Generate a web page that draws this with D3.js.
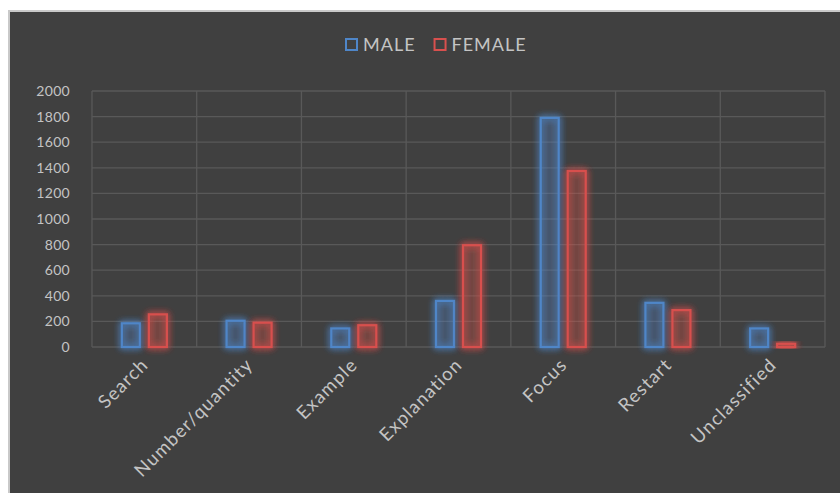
<!DOCTYPE html>
<html>
<head>
<meta charset="utf-8">
<script src="https://cdn.jsdelivr.net/npm/d3@7"></script>
<style>
  body { margin: 0; background: #ffffff; }
  svg { display: block; }
</style>
</head>
<body>
<script>
// chart data
var categories = ["Search", "Number/quantity", "Example", "Explanation", "Focus", "Restart", "Unclassified"];
var series = ["MALE", "FEMALE"];
var male = [185, 205, 145, 360, 1790, 345, 145];
var female = [255, 190, 170, 795, 1375, 288, 25];
var yTicks = [0, 200, 400, 600, 800, 1000, 1200, 1400, 1600, 1800, 2000];

var colors = {MALE: "#4f86c8", FEMALE: "#d8504e"};
var font = "Lato, 'Open Sans', sans-serif";

var W = 840, H = 493;
var margin = {top: 91, right: 15, bottom: 146, left: 92};
var width = W - margin.left - margin.right,
    height = H - margin.top - margin.bottom;

var svg = d3.select("body").append("svg")
    .attr("width", W)
    .attr("height", H);

// glow filter
var defs = svg.append("defs");
var glow = defs.append("filter").attr("id", "glow")
    .attr("x", "-60%").attr("y", "-60%").attr("width", "220%").attr("height", "220%");
glow.append("feGaussianBlur").attr("in", "SourceGraphic").attr("stdDeviation", 3.5).attr("result", "blur");
var merge = glow.append("feMerge");
merge.append("feMergeNode").attr("in", "blur");
merge.append("feMergeNode").attr("in", "blur");
merge.append("feMergeNode").attr("in", "SourceGraphic");

// dark panel
svg.append("rect")
    .attr("x", 9).attr("y", 11)
    .attr("width", W - 8).attr("height", H - 10)
    .attr("fill", "#404040")
    .attr("stroke", "#c9c9c9")
    .attr("stroke-width", 2);

var g = svg.append("g")
    .attr("transform", "translate(" + margin.left + "," + margin.top + ")");

var x0 = d3.scaleBand().domain(categories).range([0, width]);
var groupW = 47;
var x1 = d3.scaleBand().domain(series)
    .range([(x0.bandwidth() - groupW) / 2, (x0.bandwidth() + groupW) / 2])
    .paddingInner(0.26);
var y = d3.scaleLinear().domain([0, 2000]).range([height, 0]);

// horizontal grid
g.append("g").selectAll("line")
    .data(yTicks)
    .enter().append("line")
    .attr("x1", 0).attr("x2", width)
    .attr("y1", function(d) { return y(d); })
    .attr("y2", function(d) { return y(d); })
    .attr("stroke", "#595959").attr("stroke-width", 1.3);

// vertical grid at category boundaries
var bounds = categories.map(function(c) { return x0(c); }).concat([width]);
g.append("g").selectAll("line")
    .data(bounds)
    .enter().append("line")
    .attr("x1", function(d) { return d; })
    .attr("x2", function(d) { return d; })
    .attr("y1", 0).attr("y2", height)
    .attr("stroke", "#595959").attr("stroke-width", 1.3);

// y axis labels
var yAxis = g.append("g")
    .call(d3.axisLeft(y).tickValues(yTicks).tickFormat(d3.format("d")).tickSize(0).tickPadding(22));
yAxis.select(".domain").remove();
yAxis.selectAll("text")
    .attr("fill", "#c4c4c4")
    .style("font-family", font)
    .style("font-size", "14px")
    .style("letter-spacing", "0.3px");

// bars
var rows = categories.map(function(c, i) { return {cat: c, MALE: male[i], FEMALE: female[i]}; });
var groups = g.append("g").selectAll("g")
    .data(rows)
    .enter().append("g")
    .attr("transform", function(d) { return "translate(" + x0(d.cat) + ",0)"; });

groups.selectAll("rect")
    .data(function(d) { return series.map(function(s) { return {key: s, value: d[s]}; }); })
    .enter().append("rect")
    .attr("x", function(d) { return x1(d.key) + 1; })
    .attr("y", function(d) { return y(d.value); })
    .attr("width", x1.bandwidth() - 2)
    .attr("height", function(d) { return height - y(d.value); })
    .attr("fill", function(d) { return colors[d.key]; })
    .attr("fill-opacity", 0.12)
    .attr("stroke", function(d) { return colors[d.key]; })
    .attr("stroke-width", 2.2)
    .attr("filter", "url(#glow)");

// x labels
var xAxis = g.append("g")
    .attr("transform", "translate(0," + height + ")")
    .call(d3.axisBottom(x0).tickSize(0).tickPadding(0));
xAxis.select(".domain").remove();
xAxis.selectAll("text")
    .attr("fill", "#c4c4c4")
    .style("font-family", font)
    .style("font-size", "18.5px")
    .style("letter-spacing", "1.2px")
    .style("text-anchor", "end")
    .attr("dy", "0")
    .attr("transform", "translate(5,19) rotate(-45)");

// legend
var legend = svg.append("g").attr("transform", "translate(345,38)");
var lx = 0;
series.forEach(function(s) {
  var item = legend.append("g").attr("transform", "translate(" + lx + ",0)");
  item.append("rect")
      .attr("x", 1).attr("y", 1)
      .attr("width", 11).attr("height", 11)
      .attr("fill", "none")
      .attr("stroke", colors[s]).attr("stroke-width", 2);
  var t = item.append("text")
      .attr("x", 18).attr("y", 13)
      .attr("fill", "#c4c4c4")
      .style("font-family", font)
      .style("font-size", "18px")
      .style("letter-spacing", "1px")
      .text(s);
  lx += 18 + t.node().getComputedTextLength() + 18;
});
</script>
</body>
</html>
